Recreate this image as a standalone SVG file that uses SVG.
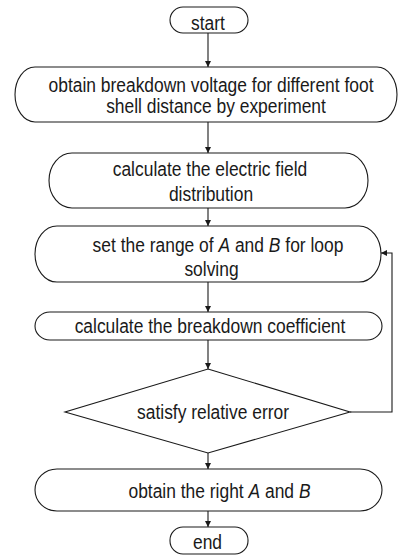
<svg xmlns="http://www.w3.org/2000/svg" width="399" height="555" viewBox="0 0 399 555">
<defs>
<style>
.n{fill:#fff;stroke:#1a1a1a;stroke-width:1.1}
.c{fill:none;stroke:#1a1a1a;stroke-width:1.1}
text{font-family:"Liberation Sans",Arial,sans-serif;font-size:21px;fill:#1a1a1a;text-anchor:middle}
.i{font-style:italic}
</style>
<marker id="ah" viewBox="0 0 10 10" refX="10" refY="5" markerWidth="6" markerHeight="7" markerUnits="userSpaceOnUse" orient="auto">
<path d="M0,0 L10,5 L0,10 z" fill="#1a1a1a"/>
</marker>
</defs>
<g id="connectors">
<path class="c" d="M208,33 V67" marker-end="url(#ah)"/>
<path class="c" d="M208,122 V153" marker-end="url(#ah)"/>
<path class="c" d="M208,208 V226" marker-end="url(#ah)"/>
<path class="c" d="M208,282 V312" marker-end="url(#ah)"/>
<path class="c" d="M208,340 V369" marker-end="url(#ah)"/>
<path class="c" d="M350,412 H392 V253 H381" marker-end="url(#ah)"/>
<path class="c" d="M208,453 V469" marker-end="url(#ah)"/>
<path class="c" d="M208,511 V527" marker-end="url(#ah)"/>
</g>
<g id="start">
<rect class="n" x="170" y="7" width="78" height="26" rx="13" ry="13"/>
<text transform="translate(208,30) scale(0.83,1)">start</text>
</g>
<g id="obtain-voltage">
<rect class="n" x="15" y="67" width="382" height="55" rx="20" ry="27.5"/>
<text transform="translate(211,92) scale(0.83,1)">obtain breakdown voltage for different foot</text>
<text transform="translate(216,113) scale(0.83,1)">shell distance by experiment</text>
</g>
<g id="calc-field">
<rect class="n" x="49" y="153" width="319" height="55" rx="23" ry="27.5"/>
<text transform="translate(210,176) scale(0.83,1)">calculate the electric field</text>
<text transform="translate(211,201) scale(0.83,1)">distribution</text>
</g>
<g id="set-range">
<rect class="n" x="35" y="226" width="346" height="56" rx="22" ry="28"/>
<text transform="translate(218,252) scale(0.83,1)">set the range of <tspan class="i">A</tspan> and <tspan class="i">B</tspan> for loop</text>
<text transform="translate(211.5,276) scale(0.83,1)">solving</text>
</g>
<g id="calc-coeff">
<rect class="n" x="35" y="312" width="347" height="28" rx="15" ry="14"/>
<text transform="translate(210,333) scale(0.83,1)">calculate the breakdown coefficient</text>
</g>
<g id="decision">
<polygon class="n" points="208,369 350,412 208,453 65,412"/>
<text transform="translate(213,419) scale(0.83,1)">satisfy relative error</text>
</g>
<g id="obtain-ab">
<rect class="n" x="35" y="469" width="347" height="42" rx="22" ry="21"/>
<text transform="translate(219.5,498) scale(0.83,1)">obtain the right <tspan class="i">A</tspan> and <tspan class="i">B</tspan></text>
</g>
<g id="end">
<rect class="n" x="170" y="527" width="78" height="27" rx="13" ry="13"/>
<text transform="translate(207.5,549) scale(0.83,1)">end</text>
</g>
</svg>
